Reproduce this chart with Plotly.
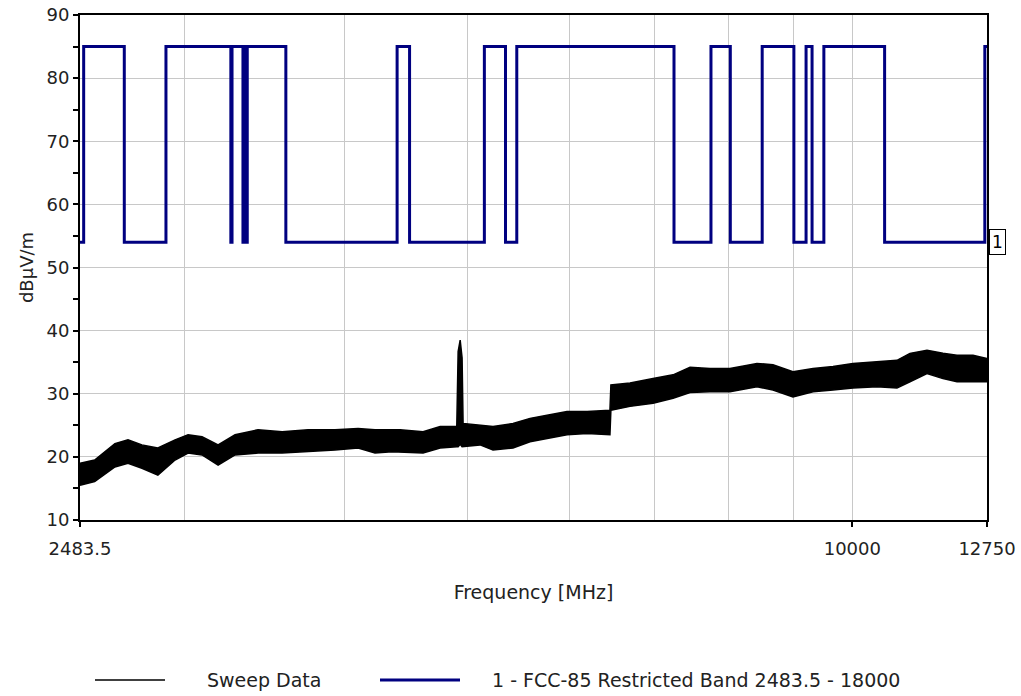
import math
import plotly.graph_objects as go

# ---------------- data ----------------
# Sweep data envelope (MHz, dBuV/m)
sweep_freq = [2483.5, 2550, 2645, 2708, 2777, 2858, 2948, 3018, 3095, 3186, 3285, 3424,
              3576, 3747, 3934, 4101, 4228, 4360, 4424, 4611, 4755, 4900, 4912, 4930,
              4947, 4956, 5110, 5231, 5423, 5592, 5766, 5978, 6198, 6459, 6470, 6697,
              6981, 7238, 7463, 7736, 8020, 8420, 8667, 8985, 9317, 9658, 10012, 10455,
              10839, 11096, 11442, 11777, 12078, 12432, 12750]
sweep_upper = [19.0, 19.5, 22.1, 22.7, 21.9, 21.4, 22.7, 23.5, 23.2, 21.9, 23.5, 24.3,
               24.0, 24.3, 24.3, 24.5, 24.3, 24.3, 24.3, 24.0, 24.8, 24.8, 36.7, 38.5,
               35.7, 25.3, 25.0, 24.8, 25.3, 26.1, 26.6, 27.2, 27.2, 27.4, 31.4, 31.7,
               32.4, 33.0, 34.2, 34.0, 34.0, 34.8, 34.6, 33.5, 34.0, 34.3, 34.8, 35.1,
               35.3, 36.4, 36.9, 36.4, 36.1, 36.1, 35.6]
sweep_lower = [15.5, 16.1, 18.4, 19.0, 18.2, 17.1, 19.5, 20.6, 20.3, 18.7, 20.3, 20.6,
               20.6, 20.8, 21.1, 21.4, 20.6, 20.8, 20.7, 20.6, 21.4, 21.6, 21.6, 22.0,
               21.6, 21.6, 21.9, 21.1, 21.4, 22.4, 22.9, 23.5, 23.7, 23.5, 27.4, 28.0,
               28.5, 29.3, 30.2, 30.3, 30.3, 31.1, 30.6, 29.5, 30.3, 30.6, 30.9, 31.1,
               30.9, 31.9, 33.2, 32.4, 31.9, 31.9, 31.9]

# FCC restricted bands (MHz) inside the sweep
band_start = [2483.5, 2690, 3260, 3332, 3345.8, 3600, 4500, 5350, 7250, 8025, 9000, 9300, 10600]
band_stop = [2500, 2900, 3267, 3339, 3358, 4400, 5150, 5460, 7750, 8500, 9200, 9500, 12700]
limit_restricted = 54
limit_other = 85
f_min, f_max = 2483.5, 12750

x_tick_vals = [2483.5, 10000, 12750]
x_tick_text = ["2483.5", "10000", "12750"]
x_grid_vals = [3000, 4000, 5000, 6000, 7000, 8000, 9000]

series_names = ["Sweep Data", "1 - FCC-85 Restricted Band 2483.5 - 18000"]

# ---------------- build limit step line ----------------
lim_x, lim_y = [], []
for s, e in zip(band_start, band_stop):
    lim_x += [s, e]
    lim_y += [limit_restricted, limit_other]
lim_x.append(f_max)
lim_y.append(limit_other)

FONT = "DejaVu Sans"
NAVY = "#000080"
TXT = "#222222"

# figure geometry (page body margin is removed below, so figure fills the window)
W, H = 1021, 696
PL, PR, PT, PB = 80, 987, 15, 520

fig = go.Figure()

# sweep envelope polygon
fig.add_trace(go.Scatter(
    x=sweep_freq + sweep_freq[::-1],
    y=sweep_upper + sweep_lower[::-1],
    mode="lines", fill="toself", fillcolor="black",
    line=dict(color="black", width=1.5),
    name=series_names[0], showlegend=False, hoverinfo="skip"))
# limit line
fig.add_trace(go.Scatter(x=lim_x, y=lim_y, mode="lines", line_shape="hv",
                         name=series_names[1], showlegend=False,
                         line=dict(color=NAVY, width=3)))

# marker label "1" at the end of the limit line
fig.add_annotation(x=math.log10(f_max), y=limit_restricted, xref="x", yref="y",
                   text="1", showarrow=False, xanchor="left", yanchor="middle",
                   xshift=2, font=dict(family=FONT, size=17, color="black"),
                   bordercolor="black", borderwidth=1, borderpad=2, bgcolor="white")

# ---- legend drawn below the chart (paper coordinates) ----
def px_x(p):
    return (p - PL) / (PR - PL)
def px_y(p):
    return (PB - p) / (PB - PT)

leg_y = px_y(680)
legend_items = [
    (95, 165, 205, "black", 1.5),
    (380, 460, 490, NAVY, 3),
]
for name, (x0, x1, xt, col, w) in zip(series_names, legend_items):
    fig.add_shape(type="line", xref="paper", yref="paper",
                  x0=px_x(x0), x1=px_x(x1), y0=leg_y, y1=leg_y,
                  line=dict(color=col, width=w))
    fig.add_annotation(xref="paper", yref="paper", x=px_x(xt), y=leg_y,
                       text=name, showarrow=False, xanchor="left", yanchor="middle",
                       font=dict(family=FONT, size=19, color=TXT))

fig.update_layout(
    width=W, height=H,
    margin=dict(l=PL, r=W - PR, t=PT, b=H - PB),
    paper_bgcolor="white", plot_bgcolor="white",
    font=dict(family=FONT, size=18, color=TXT),
    showlegend=False,
)

fig.update_xaxes(
    type="log", range=[math.log10(f_min), math.log10(f_max)],
    tickmode="array", tickvals=x_tick_vals, ticktext=x_tick_text,
    ticks="outside", ticklen=5, tickcolor="black", tickwidth=1.5,
    ticklabelstandoff=6, ticklabeloverflow="allow",
    showgrid=True, gridcolor="#c8c8c8", gridwidth=1,
    minor=dict(tickmode="array", tickvals=x_grid_vals, showgrid=True,
               gridcolor="#c8c8c8", gridwidth=1, ticks=""),
    showline=True, linecolor="black", linewidth=2, mirror=True,
    zeroline=False, automargin=False,
    tickfont=dict(family=FONT, size=18, color=TXT),
    title=dict(text="Frequency [MHz]", font=dict(family=FONT, size=19, color=TXT),
               standoff=28),
)
fig.update_yaxes(
    range=[10, 90], dtick=10, tick0=10,
    ticks="outside", ticklen=5, tickcolor="black", tickwidth=1.5,
    ticklabeloverflow="allow",
    minor=dict(dtick=5, ticks="outside", ticklen=5, tickcolor="black", showgrid=False),
    showgrid=True, gridcolor="#c8c8c8", gridwidth=1,
    showline=True, linecolor="black", linewidth=2, mirror=True,
    zeroline=False, automargin=False,
    tickfont=dict(family=FONT, size=18, color=TXT),
    title=dict(text="dBµV/m", font=dict(family=FONT, size=18, color=TXT),
               standoff=8),
)

fig.write_html("out.html",
               config={"displayModeBar": False},
               post_script="document.body.style.margin='0';document.body.style.overflow='hidden';")
